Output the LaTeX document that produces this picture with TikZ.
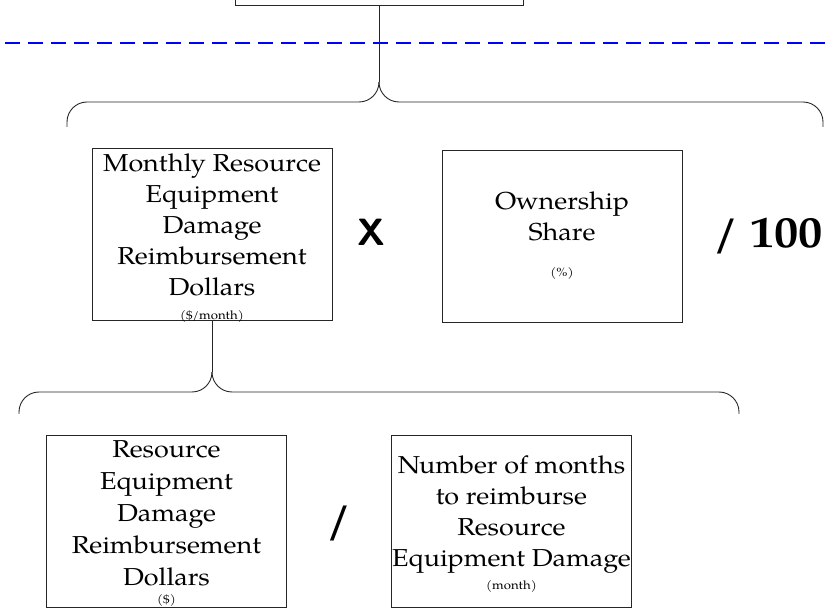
\documentclass[tikz,border=0pt]{standalone}
\usepackage{fontspec}
\setmainfont{texgyrepagella}[
	Extension=.otf,
	UprightFont=*-regular,
	BoldFont=*-bold,
	FakeStretch=1.1
]
\usepackage{tikz}
\usetikzlibrary{
	positioning
}

\tikzset{
	block/.style={draw=black!85,line width=0.9pt,minimum width=240pt,minimum height=172pt,inner sep=0pt},
	blocktext/.style={align=center,inner sep=0pt,font=\fontsize{24.5}{31}\selectfont},
	unittext/.style={inner sep=0pt,font=\fontsize{12}{14}\selectfont},
	optext/.style={inner sep=0pt,font=\bfseries\fontsize{44}{44}\selectfont},
	brace/.style={draw=black!85,line width=0.9pt,rounded corners=20pt},
	boundary/.style={draw=blue,line width=2pt,dash pattern=on 15pt off 8pt}
}

\begin{document}
\begin{tikzpicture}[x=1pt,y=-1pt]
		\clip (0,0) rectangle (831,609);

		\node[block,minimum width=288pt,minimum height=80pt,anchor=south] (total) at (379,6) {};
		\node[block] (monthly) at (212,234.5) {};
		\node[block] (share)   at (562,236.5) {};
		\node[block] (damage)  at (166.5,521.5) {};
		\node[block] (months)  at (511.5,521.5) {};

		\node[blocktext,anchor=north] (monthlytxt) at (212,153.5) {Monthly Resource\\Equipment\\Damage\\Reimbursement\\Dollars};
		\node[blocktext,anchor=north] (sharetxt)   at (562,192)   {Ownership\\Share};
		\node[blocktext,anchor=north,font=\fontsize{24.5}{32}\selectfont] (damagetxt) at (166.5,440) {Resource\\Equipment\\Damage\\Reimbursement\\Dollars};
		\node[blocktext,anchor=north] (monthstxt)  at (511.5,455) {Number of months\\to reimburse\\Resource\\Equipment Damage};

		\node[unittext,anchor=base] (monthlyunit) at (212,320)   {(\$/month)};
		\node[unittext,anchor=base] (shareunit)   at (562,277)   {(\%)};
		\node[unittext,anchor=base] (damageunit)  at (166.5,604) {(\$)};
		\node[unittext,anchor=base] (monthsunit)  at (511.5,590) {(month)};

		\node[optext,font=\sffamily\bfseries\fontsize{38}{38}\selectfont] (times) at (371,232) {X};
		\node[optext] (per)    at (768,236) {/ 100};
		\node[optext] (divide) at (339,524) {/};

		% upper brace
		\coordinate (toptip)   at (379,82);
		\coordinate (topbar)   at (379,102);
		\coordinate (topleft)  at (67,127);
		\coordinate (topright) at (823,127);
		% lower brace
		\coordinate (lowtip)   at (212,372);
		\coordinate (lowbar)   at (212,392);
		\coordinate (lowleft)  at (19,414);
		\coordinate (lowright) at (739,414);
		% dashed line
		\coordinate (divl) at (5,42.7);
		\coordinate (divr) at (831,42.7);

		\draw[boundary] (divl) -- (divr);

		\draw[brace] (total.south) -- (toptip);
		\draw[brace] (topleft)  |- (topbar) -- (toptip);
		\draw[brace] (topright) |- (topbar) -- (toptip);

		\draw[brace] (monthly.south) -- (lowtip);
		\draw[brace] (lowleft)  |- (lowbar) -- (lowtip);
		\draw[brace] (lowright) |- (lowbar) -- (lowtip);
	\end{tikzpicture}
\end{document}
